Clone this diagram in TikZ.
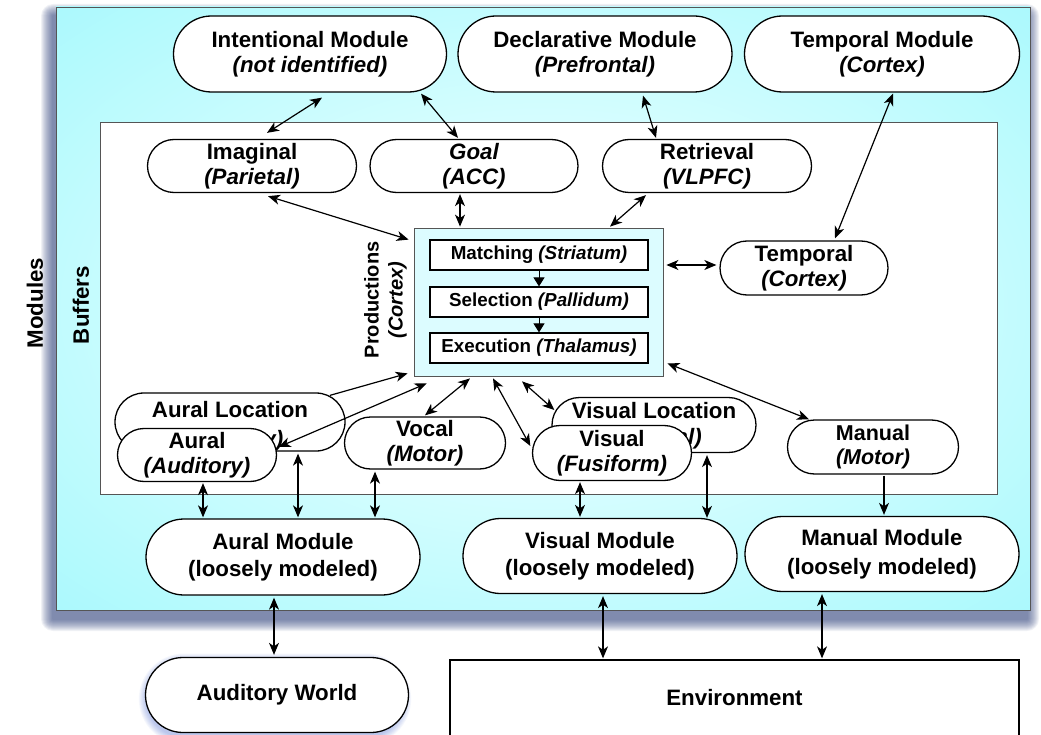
\documentclass[tikz,border=0pt]{standalone}
\usepackage{fontspec}
\setmainfont{Liberation Sans}
\usetikzlibrary{shapes.misc,arrows.meta}

\definecolor{panelcore}{HTML}{DCFEFF}
\definecolor{panelmid}{HTML}{A2F8FC}
\definecolor{paneledge}{HTML}{5EF0F8}
\definecolor{dropshade}{HTML}{1E3270}
\definecolor{prodfill}{HTML}{DCFCFF}
\definecolor{framegray}{HTML}{555555}
\definecolor{glowblue}{HTML}{3A5CC8}

\pgfdeclareradialshading{panelglow}{\pgfpoint{0bp}{0bp}}{%
  color(0bp)=(panelcore); color(12bp)=(panelcore);
  color(40bp)=(panelmid); color(62bp)=(paneledge); color(80bp)=(paneledge)}

\newcommand\dgmfont{\fontsize{22.3}{25}\selectfont\bfseries}
\newcommand\dgmsmall{\fontsize{18.8}{22}\selectfont\bfseries}
\newcommand\dgmprod{\fontsize{20}{24}\selectfont\bfseries}

\begin{document}
\begin{tikzpicture}[x=1pt,y=-1pt,
  >={Stealth[length=12pt,width=10pt,inset=3.5pt]},
  pill/.style={rounded rectangle, draw=black, line width=1.3pt, fill=white,
    inner sep=0pt, align=center, font=\dgmfont},
  modbox/.style={pill, minimum width=274pt, minimum height=76pt},
  stepbox/.style={rectangle, draw=black, line width=1.2pt, fill=white,
    minimum width=218pt, minimum height=30pt, inner sep=0pt, font=\dgmsmall},
  plaintext/.style={inner sep=0pt, font=\dgmfont},
  link/.style={<->, line width=1.2pt},
  feed/.style={->, line width=1.2pt},
  sidelabel/.style={rotate=90, font=\dgmfont, align=center}]

\useasboundingbox (0,0) rectangle (1041,735);

% soft drop shadow under the module panel
\foreach \r in {1,...,12}
  \fill[dropshade, opacity=0.065, rounded corners=\r pt]
    (53-\r,16-\r) rectangle (1027+\r,619+\r);

% module panel with its cyan glow
\shade[shading=panelglow, draw=framegray, line width=0.8pt] (56,7) rectangle (1030,610);

% buffer panel
\node[draw=framegray, fill=white, line width=0.8pt, minimum width=897pt,
  minimum height=372pt, inner sep=0pt] (bufpanel) at (548.5,308) {};

\node[sidelabel] (modlabel) at (35,303) {Modules};
\node[sidelabel] (buflabel) at (81,305) {Buffers};

% modules along the top
\node[modbox, minimum width=273pt] (intent) at (310,54) {Intentional Module\\{\itshape (not identified)}};
\node[modbox] (decl) at (595,54) {Declarative Module\\{\itshape (Prefrontal)}};
\node[modbox, minimum width=275pt] (tempm) at (882,54) {Temporal Module\\{\itshape (Cortex)}};

% buffers along the top
\node[pill, minimum width=209pt, minimum height=53pt] (imag) at (252,166) {Imaginal\\{\itshape (Parietal)}};
\node[pill, minimum width=208pt, minimum height=53pt] (goal) at (474,166) {\itshape Goal\\{\itshape (ACC)}};
\node[pill, minimum width=209pt, minimum height=53pt] (retr) at (707,166) {Retrieval\\{\itshape (VLPFC)}};

% production system
\node[draw=framegray, fill=prodfill, line width=0.8pt, minimum width=249pt,
  minimum height=148pt, inner sep=0pt] (prod) at (538.5,302) {};
\node[stepbox] (match) at (539,255) {Matching {\itshape (Striatum)}};
\node[stepbox] (sel) at (539,302) {Selection {\itshape (Pallidum)}};
\node[stepbox] (exec) at (539,348) {Execution {\itshape (Thalamus)}};
\draw[-{Triangle[length=9pt,width=11pt]}, line width=1pt] (match.south) -- (sel.north);
\draw[-{Triangle[length=9pt,width=11pt]}, line width=1pt] (sel.south) -- (exec.north);
\node[sidelabel, font=\dgmprod] (prodlabel) at (385.5,300) {Productions\\{\itshape (Cortex)}};

\node[pill, minimum width=168pt, minimum height=54pt] (tempb) at (804,268) {Temporal\\{\itshape (Cortex)}};

% location buffers sit behind their perceptual buffers
\node[pill, minimum width=230pt, minimum height=58pt] (aurloc) at (230,422) {};
\node[plaintext] (aurloctitle) at (230,410) {Aural Location};
\node[plaintext] (aurlocsub) at (230,441) {\itshape (Auditory)};
\node[pill, minimum width=204pt, minimum height=55pt] (visloc) at (654,425) {};
\node[plaintext] (visloctitle) at (654,411) {Visual Location};
\node[plaintext] (vislocsub) at (654,439) {\itshape (Parietal)};

\node[pill, minimum width=159pt, minimum height=53pt] (aural) at (197,455) {Aural\\{\itshape (Auditory)}};
\node[pill, minimum width=161pt, minimum height=52pt] (vocal) at (425,443) {Vocal\\{\itshape (Motor)}};
\node[pill, minimum width=159pt, minimum height=55pt] (visual) at (612,453) {Visual\\{\itshape (Fusiform)}};
\node[pill, minimum width=171pt, minimum height=54pt, font=\fontsize{21.5}{24}\selectfont\bfseries] (manual) at (873,447) {Manual\\{\itshape (Motor)}};

% perceptual and motor modules
\node[modbox] (aurm) at (283,557) {Aural Module\\[2pt](loosely modeled)};
\node[modbox, minimum height=75pt] (vism) at (600,556) {Visual Module\\[2pt](loosely modeled)};
\node[modbox, minimum height=75pt] (manm) at (882,554) {Manual Module\\[4pt](loosely modeled)};

% outside world
\foreach \r in {1,...,8}
  \node[rounded rectangle, fill=glowblue, opacity=0.05, draw=none,
    minimum width={263+2*\r}, minimum height={75+2*\r}] at (275,699) {};
\node[pill, minimum width=263pt, minimum height=75pt] (audw) at (277,695) {Auditory World};
\node[rectangle, draw=black, line width=1.3pt, fill=white, minimum width=569pt,
  minimum height=76pt, inner sep=0pt, font=\dgmfont] (env) at (734.5,698) {Environment};

% module <-> buffer links
\draw[link] ([xshift=12pt,yshift=-5pt]intent.south) -- ([xshift=15pt,yshift=6pt]imag.north);
\draw[link] ([xshift=111pt,yshift=-1pt]intent.south) -- ([xshift=-16pt,yshift=1pt]goal.north);
\draw[link] ([xshift=48pt,yshift=-3pt]decl.south) -- ([xshift=-51pt,yshift=1pt]retr.north);
\draw[link] ([xshift=11pt,yshift=-1pt]tempm.south) -- ([xshift=31pt,yshift=2pt]tempb.north);

% buffer <-> production links
\draw[link] ([xshift=-61pt,yshift=-2pt]retr.south) -- ([xshift=71.5pt,yshift=1pt]prod.north);
\draw[link] ([xshift=16pt,yshift=-3pt]imag.south) -- ([xshift=-5pt,yshift=-12pt]prod.north west);
\draw[link] ([xshift=-14pt,yshift=-1pt]goal.south) -- ([xshift=-78.5pt,yshift=1pt]prod.north);
\draw[link] ([xshift=3pt,yshift=37pt]prod.east) -- ([xshift=-3pt,yshift=3pt]tempb.west);
\draw[link] ([xshift=4pt,yshift=13pt]prod.south east) -- ([xshift=-64pt]manual.north);
\draw[feed] ([xshift=100pt,yshift=-3pt]aurloc.north) -- ([xshift=-6pt,yshift=3pt]prod.south west);
\draw[link] ([xshift=13pt,yshift=-7pt]prod.south west) -- ([xshift=1.5pt,yshift=8pt]aural.east);
\draw[link] ([yshift=1pt]vocal.north) -- ([xshift=-68.5pt,yshift=-2pt]prod.south);
\draw[link] ([xshift=-45.5pt,yshift=-2pt]prod.south) -- ([xshift=-1.5pt,yshift=7pt]visual.west);
\draw[link] ([xshift=-16.5pt,yshift=-5pt]prod.south) -- ([xshift=3pt,yshift=15pt]visloc.west);

% buffer <-> perceptual/motor module links
\draw[link] ([xshift=6pt,yshift=-1pt]aural.south) -- ([xshift=-80pt,yshift=1pt]aurm.north);
\draw[link] ([xshift=68pt,yshift=-2pt]aurloc.south) -- ([xshift=15pt,yshift=1pt]aurm.north);
\draw[link] ([xshift=-50pt,yshift=-2pt]vocal.south) -- ([xshift=92pt,yshift=1pt]aurm.north);
\draw[link] ([xshift=-32pt,yshift=-1pt]visual.south) -- ([xshift=-20pt,yshift=1pt]vism.north);
\draw[link] ([xshift=53pt,yshift=-2pt]visloc.south) -- ([xshift=107pt]vism.north);
\draw[feed] ([xshift=11pt,yshift=-1pt]manual.south) -- ([xshift=2pt,yshift=1pt]manm.north);

% module <-> world links
\draw[link] ([xshift=-9pt,yshift=-2pt]aurm.south) -- ([xshift=-3pt,yshift=2pt]audw.north);
\draw[link] ([xshift=3pt,yshift=-2pt]vism.south) -- ([xshift=-131.5pt,yshift=1pt]env.north);
\draw[link] ([xshift=-60pt,yshift=-2pt]manm.south) -- ([xshift=87.5pt,yshift=1pt]env.north);

\end{tikzpicture}
\end{document}
